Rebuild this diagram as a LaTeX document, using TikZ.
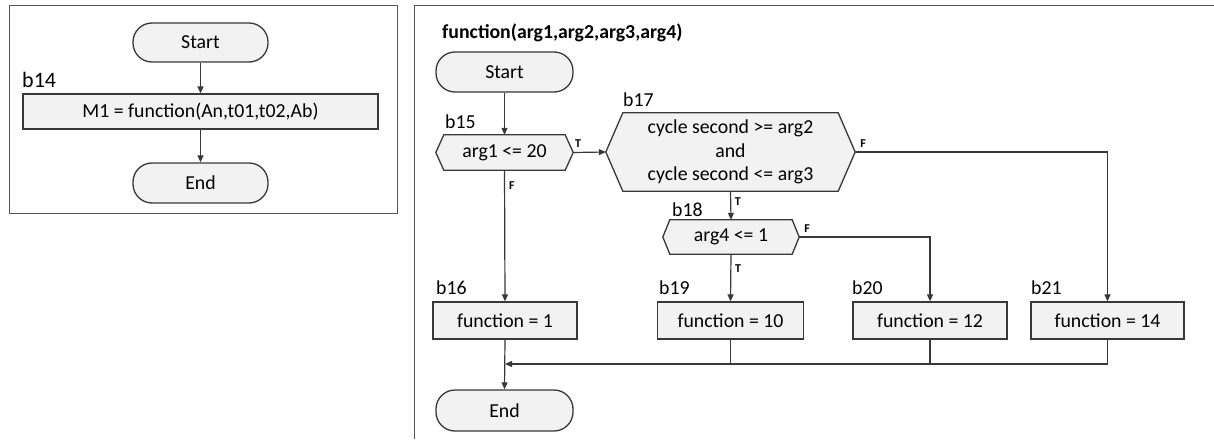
\documentclass[tikz,border=0pt]{standalone}
\usepackage{fontspec}
\setmainfont{Carlito}
\usetikzlibrary{arrows.meta,backgrounds,calc}
\definecolor{strk}{HTML}{383838}
\definecolor{fll}{HTML}{F2F2F2}
\tikzset{
  base/.style={font=\fontsize{19.8}{23.5}\selectfont, text=black, inner sep=0pt},
  term/.style={base, draw=strk, fill=fll, line width=1.3pt, rounded corners=19pt},
  proc/.style={base, draw=strk, fill=fll, line width=1.3pt},
  hexnode/.style={base, align=center},
  hexdraw/.style={draw=strk, fill=fll, line width=1.3pt},
  blabel/.style={base, anchor=west},
  tf/.style={font=\fontsize{12}{14}\selectfont\bfseries, text=black, inner sep=0pt},
  arr/.style={draw=strk, line width=1.2pt, -{Triangle[length=7pt,width=6pt]}},
  ln/.style={draw=strk, line width=1.2pt},
  frame/.style={draw=strk!85, line width=1pt}
}
\newcommand{\hexa}[2]{\path[hexdraw] (#1.west) -- ([xshift=#2]#1.north west) -- ([xshift=-#2]#1.north east) -- (#1.east) -- ([xshift=-#2]#1.south east) -- ([xshift=#2]#1.south west) -- cycle;}
\begin{document}
\begin{tikzpicture}[x=1pt,y=-1pt]
\useasboundingbox (0,0) rectangle (1214,439);
% frames
\draw[frame] (9,5) rectangle (397,213);
\draw[frame] (1214,5) -- (414,5) -- (414,439);

% left panel
\node[term, minimum width=135pt, minimum height=39pt] (s1) at (200.5,42.5) {Start};
\node[proc, minimum width=355pt, minimum height=35pt] (m1) at (200.5,111.5) {M1 = function(An,t01,t02,Ab)};
\node[blabel, font=\fontsize{22}{26}\selectfont] (l14) at (22,80) {b14};
\node[term, minimum width=135pt, minimum height=40pt] (e1) at (200.5,183) {End};
\draw[arr] (s1) -- (m1);
\draw[arr] (m1) -- (e1);

% right panel
\node[base, anchor=west, font=\fontsize{19.8}{23.5}\selectfont\bfseries] (title) at (442,33) {function(arg1,arg2,arg3,arg4)};
\node[term, minimum width=137pt, minimum height=40pt] (s2) at (504.5,72) {Start};

\node[hexnode, minimum width=137pt, minimum height=35pt] (b15) at (504.5,152.5) {arg1 <= 20};
\node[hexnode, minimum width=249pt, minimum height=78pt] (b17) at (730.5,152) {cycle second >= arg2\\and\\cycle second <= arg3};
\node[hexnode, minimum width=136pt, minimum height=34pt] (b18) at (731,237) {arg4 <= 1};
\begin{scope}[on background layer]
\hexa{b15}{8pt}
\hexa{b17}{17pt}
\hexa{b18}{7pt}
\end{scope}

\node[proc, minimum width=144pt, minimum height=37pt] (b16) at (505,320.5) {function = 1};
\node[proc, minimum width=146pt, minimum height=37pt] (b19) at (730.5,320.5) {function = 10};
\node[proc, minimum width=154pt, minimum height=37pt] (b20) at (930,320.5) {function = 12};
\node[proc, minimum width=153pt, minimum height=37pt] (b21) at (1107.5,320.5) {function = 14};
\node[term, minimum width=137pt, minimum height=41pt] (e2) at (504.5,410.5) {End};

\node[blabel] (l15) at (445,122) {b15};
\node[blabel] (l17) at (623,100) {b17};
\node[blabel] (l18) at (672,210) {b18};
\node[blabel] (l16) at (436,288) {b16};
\node[blabel] (l19) at (659,288) {b19};
\node[blabel] (l20) at (852,288) {b20};
\node[blabel] (l21) at (1031,288) {b21};

% connectors
\draw[arr] (s2) -- (b15);
\draw[arr] (b15.east) -- node[tf, pos=0.15, above=4pt] {T} (b17.west);
\draw[arr] (b15.south) -- node[tf, pos=0.12, right=4pt] {F} (b16.north);
\draw[arr] (b17.east) -| (b21.north);
\node[tf, anchor=south west] (f17) at ([xshift=5pt,yshift=4pt]b17.east) {F};
\draw[arr] (b17.south) -- (b18.north);
\node[tf, anchor=west] (t17) at ($(b17.south)!0.35!(b18.north)+(4,0)$) {T};
\draw[arr] (b18.east) -| (b20.north);
\node[tf, anchor=south west] (f18) at ([xshift=5pt,yshift=4pt]b18.east) {F};
\draw[arr] (b18.south) -- (b19.north);
\node[tf, anchor=west] (t18) at ($(b18.south)!0.3!(b19.north)+(4,0)$) {T};

\coordinate (mj) at (505,364);
\draw[arr] (b21.south) |- (mj);
\draw[ln] (b20.south) -- (b20.south |- mj);
\draw[ln] (b19.south) -- (b19.south |- mj);
\draw[arr] (b16.south) -- (e2.north);
\end{tikzpicture}
\end{document}
